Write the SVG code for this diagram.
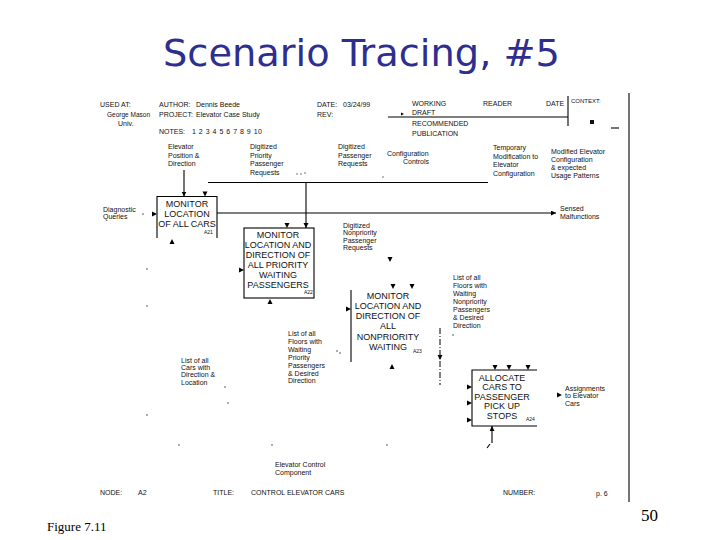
<svg xmlns="http://www.w3.org/2000/svg" width="720" height="540" viewBox="0 0 720 540">
<style>
.t{font-family:"Liberation Sans",Arial,sans-serif;fill:#111}
.h{font-size:7px}
.s{font-size:7px}
.b{font-size:9px;text-anchor:middle}
.tn{font-size:5px}
.ln{stroke:#000;stroke-width:1.1;fill:none}
.dd{stroke:#000;stroke-width:1;fill:none;stroke-dasharray:6 2 1 2}
.dot{fill:#444}
</style>
<defs>
<marker id="m" markerUnits="userSpaceOnUse" markerWidth="6" markerHeight="6" refX="5" refY="2.5" orient="auto"><path d="M0,0 L5,2.5 L0,5 Z" fill="#000"/></marker>
<path id="ad" d="M-2.5,-5 L2.5,-5 L0,0 Z" fill="#000"/>
<path id="au" d="M-2.5,5 L2.5,5 L0,0 Z" fill="#000"/>
<path id="ar" d="M-5,-2.5 L-5,2.5 L0,0 Z" fill="#000"/>
<path id="ars" d="M-3,-1.5 L-3,1.5 L0,0 Z" fill="#000"/>
</defs>
<rect width="720" height="540" fill="#fff"/>
<text x="163" y="66" font-family="DejaVu Sans,Verdana,sans-serif" font-size="38" fill="#2e2e8f" textLength="397" lengthAdjust="spacingAndGlyphs">Scenario Tracing, #5</text>

<g id="frame">
<line class="ln" x1="629" y1="93" x2="629" y2="502"/>
<line class="ln" x1="568" y1="96" x2="568" y2="126"/>
<line class="ln" x1="388" y1="117" x2="568" y2="117"/>
<rect x="590" y="120" width="4" height="4" fill="#111"/>
<line class="ln" x1="611" y1="128" x2="619" y2="128"/>
<use href="#ars" x="404" y="114"/>
</g>

<g id="header" class="t h">
<text x="100" y="107">USED AT:</text>
<text x="107" y="117" textLength="43" lengthAdjust="spacingAndGlyphs">George Mason</text>
<text x="118" y="126">Univ.</text>
<text x="159" y="107">AUTHOR:</text>
<text x="196" y="107">Dennis Beede</text>
<text x="159" y="117">PROJECT:</text>
<text x="196" y="117">Elevator Case Study</text>
<text x="159" y="134">NOTES:</text>
<text x="192" y="134" textLength="70">1 2 3 4 5 6 7 8 9 10</text>
<text x="317" y="107">DATE:</text>
<text x="343" y="107">03/24/99</text>
<text x="317" y="117">REV:</text>
<text x="412" y="106">WORKING</text>
<text x="412" y="115">DRAFT</text>
<text x="412" y="126">RECOMMENDED</text>
<text x="412" y="136">PUBLICATION</text>
<text x="483" y="106">READER</text>
<text x="546" y="106">DATE</text>
<text x="571" y="103" font-size="6">CONTEXT:</text>
</g>

<g id="labels" class="t s">
<text x="168" y="149">Elevator</text>
<text x="168" y="157.5">Position &amp;</text>
<text x="168" y="166">Direction</text>
<text x="250" y="149">Digitized</text>
<text x="250" y="157.5">Priority</text>
<text x="250" y="166">Passenger</text>
<text x="250" y="174.5">Requests</text>
<text x="338" y="149">Digitized</text>
<text x="338" y="157.5">Passenger</text>
<text x="338" y="166">Requests</text>
<text x="387" y="155.5">Configuration</text>
<text x="403" y="163.5">Controls</text>
<text x="493" y="150">Temporary</text>
<text x="493" y="158.5">Modification to</text>
<text x="493" y="167">Elevator</text>
<text x="493" y="175.5">Configuration</text>
<text x="551" y="154">Modified Elevator</text>
<text x="551" y="162">Configuration</text>
<text x="551" y="170">&amp; expected</text>
<text x="551" y="178">Usage Patterns</text>
<text x="103" y="211.5">Diagnostic</text>
<text x="103" y="218.5">Queries</text>
<text x="560" y="211">Sensed</text>
<text x="560" y="219">Malfunctions</text>
<text x="343" y="227.5">Digitized</text>
<text x="343" y="235">Nonpriority</text>
<text x="343" y="242.5">Passenger</text>
<text x="343" y="250">Requests</text>
<text x="453" y="279.5">List of all</text>
<text x="453" y="287.5">Floors with</text>
<text x="453" y="295.5">Waiting</text>
<text x="453" y="303.5">Nonpriority</text>
<text x="453" y="311.5">Passengers</text>
<text x="453" y="319.5">&amp; Desired</text>
<text x="453" y="327.5">Direction</text>
<text x="288" y="335.5">List of all</text>
<text x="288" y="343.5">Floors with</text>
<text x="288" y="351.5">Waiting</text>
<text x="288" y="359.5">Priority</text>
<text x="288" y="367.5">Passengers</text>
<text x="288" y="375.5">&amp; Desired</text>
<text x="288" y="383">Direction</text>
<text x="181" y="362.5">List of all</text>
<text x="181" y="370">Cars with</text>
<text x="181" y="377">Direction &amp;</text>
<text x="181" y="384.5">Location</text>
<text x="565" y="390.5">Assignments</text>
<text x="565" y="398">to Elevator</text>
<text x="565" y="405.5">Cars</text>
<text x="275" y="466.5">Elevator Control</text>
<text x="275" y="474.5">Component</text>
</g>

<g id="box1">
<path class="ln" d="M157,238 V196.5 H217 V238"/>
<text class="t b" x="187" y="206.5">MONITOR</text>
<text class="t b" x="187" y="216.5">LOCATION</text>
<text class="t b" x="187" y="226.5">OF ALL CARS</text>
<text class="t tn" x="204" y="234">A21</text>
</g>

<g id="box2">
<rect class="ln" x="244" y="228" width="70" height="70"/>
<text class="t b" x="278" y="237.5">MONITOR</text>
<text class="t b" x="278" y="247.5">LOCATION AND</text>
<text class="t b" x="278" y="257.5">DIRECTION OF</text>
<text class="t b" x="278" y="267.5">ALL PRIORITY</text>
<text class="t b" x="278" y="277.5">WAITING</text>
<text class="t b" x="278" y="287.5">PASSENGERS</text>
<text class="t tn" x="304" y="294">A22</text>
</g>

<g id="box3">
<line class="ln" x1="351" y1="290" x2="351" y2="362"/>
<text class="t b" x="388" y="298.5">MONITOR</text>
<text class="t b" x="388" y="308.5">LOCATION AND</text>
<text class="t b" x="388" y="318.5">DIRECTION OF</text>
<text class="t b" x="388" y="329">ALL</text>
<text class="t b" x="388" y="339.5">NONPRIORITY</text>
<text class="t b" x="388" y="350">WAITING</text>
<text class="t tn" x="413" y="353">A23</text>
</g>

<g id="box4">
<path class="ln" d="M537,370 H472 V426 H537"/>
<text class="t b" x="502" y="380.5">ALLOCATE</text>
<text class="t b" x="502" y="390">CARS TO</text>
<text class="t b" x="502" y="399.5">PASSENGER</text>
<text class="t b" x="502" y="409">PICK UP</text>
<text class="t b" x="502" y="418.5">STOPS</text>
<text class="t tn" x="526" y="421">A24</text>
</g>

<g id="connectors">
<line class="ln" x1="208" y1="182.5" x2="488" y2="182.5"/>
<line class="ln" x1="184" y1="170" x2="184" y2="196.5" marker-end="url(#m)"/>
<line class="ln" x1="306" y1="182.5" x2="306" y2="228" marker-end="url(#m)"/>
<use href="#ad" x="205" y="196.5"/>
<use href="#ad" x="287" y="228"/>
<line class="ln" x1="217" y1="213" x2="556" y2="213" marker-end="url(#m)"/>
<use href="#ar" x="157" y="214"/>
<use href="#au" x="172" y="239"/>
<use href="#ar" x="244" y="270"/>
<use href="#au" x="270" y="299"/>
<use href="#ad" x="390" y="262"/>
<use href="#ad" x="393" y="289"/>
<use href="#ad" x="412" y="289"/>
<use href="#ar" x="351" y="309"/>
<use href="#au" x="392" y="364"/>
<line class="dd" x1="440" y1="328" x2="440" y2="385"/>
<use href="#ad" x="440" y="360"/>
<use href="#ad" x="495" y="370"/>
<use href="#ad" x="509" y="370"/>
<use href="#ad" x="528" y="370"/>
<use href="#ar" x="472" y="387"/>
<use href="#ar" x="472" y="403"/>
<use href="#ar" x="472" y="420"/>
<line class="ln" x1="492" y1="443" x2="492" y2="426" marker-end="url(#m)"/>
<line class="ln" x1="487" y1="448" x2="490" y2="444"/>
<use href="#ar" x="562" y="395"/>
</g>

<g id="specks">
<circle class="dot" cx="143" cy="214" r="0.8"/>
<circle class="dot" cx="147" cy="269" r="0.8"/>
<circle class="dot" cx="147" cy="306" r="0.8"/>
<circle class="dot" cx="225" cy="387" r="0.8"/>
<circle class="dot" cx="228" cy="403" r="0.8"/>
<circle class="dot" cx="147" cy="415" r="0.8"/>
<circle class="dot" cx="179" cy="445" r="0.8"/>
<circle class="dot" cx="272" cy="445" r="0.8"/>
<circle class="dot" cx="387" cy="445" r="0.8"/>
<circle class="dot" cx="340" cy="353" r="0.8"/>
<circle class="dot" cx="337" cy="351" r="0.8"/>
<circle class="dot" cx="453" cy="335" r="0.8"/>
<circle class="dot" cx="297" cy="174" r="0.7"/>
<circle class="dot" cx="301" cy="174" r="0.7"/>
<circle class="dot" cx="305" cy="173" r="0.7"/>
<circle class="dot" cx="383" cy="177" r="0.7"/>
</g>

<g id="footer" class="t h">
<text x="100" y="495">NODE:</text>
<text x="138" y="495">A2</text>
<text x="213" y="495">TITLE:</text>
<text x="251" y="495">CONTROL ELEVATOR CARS</text>
<text x="503" y="495">NUMBER:</text>
<text x="596" y="496">p. 6</text>
</g>
<text x="47" y="531" font-family="Liberation Serif,Times New Roman,serif" font-size="13" fill="#000">Figure 7.11</text>
<text x="641" y="521" font-family="Liberation Serif,Times New Roman,serif" font-size="17" fill="#000">50</text>
</svg>
